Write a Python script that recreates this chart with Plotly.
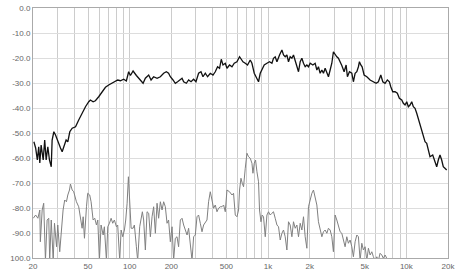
import plotly.graph_objects as go
import math

# Frequency response (black)
resp_freq = [20.3, 20.9, 21.5, 22.0, 22.4, 22.9, 23.7, 24.3, 24.9, 25.6, 26.3, 27.1, 27.5, 28.3, 29.1,
             30.2, 31.6, 32.5, 33.4, 34.7, 35.7, 36.9, 38.4, 40.6, 42.8, 45.3, 47.9, 50.6, 52.0, 54.4,
             56.5, 59.7, 63.2, 66.8, 70.5, 74.6, 78.8, 81.9, 85.7, 90.5, 94.6, 98.3, 101.2, 105.8, 111.8,
             119.5, 125, 129.8, 137.2, 142.7, 149, 157.7, 166.6, 176, 184, 191, 196.7, 205.7, 213.7,
             222, 232.3, 239, 245.5, 256.7, 266.7, 277.5, 289.8, 301.5, 314.8, 327.6, 338.7, 352, 365.7,
             382.5, 400, 415.6, 431.8, 446.4, 459.2, 472.4, 490.8, 505, 527, 548.7, 570, 596, 622.6,
             659, 684.6, 711, 743.7, 765, 795, 831.7, 853.8, 878.4, 912.5, 938.7, 982, 1025, 1067,
             1095, 1127, 1160, 1211, 1260, 1294, 1331, 1369, 1406, 1446, 1488, 1528, 1572, 1617, 1661,
             1708, 1757, 1805, 1856, 1909, 1961, 2017, 2109, 2191, 2254, 2315, 2381, 2450, 2516, 2588,
             2662, 2734, 2812, 2892, 2970, 3056, 3143, 3227, 3320, 3415, 3549, 3669, 3750, 3877, 4034,
             4142, 4261, 4384, 4502, 4578, 4686, 4789, 4950, 5178, 5470, 5720, 6043, 6278, 6534, 6755,
             7017, 7290, 7537, 7715, 7975, 8286, 8608, 8900, 9262, 9512, 9784, 10064, 10335, 10630,
             10935, 11230, 11555, 11885, 12410, 12915, 13265, 13645, 14035, 14415, 14825, 15505, 16110,
             16570, 17020, 17505, 18005, 18490, 19010, 19570]
resp_db = [-53.5, -56, -60.8, -55.5, -62, -54.8, -60.8, -52.8, -60.8, -55.5, -60.8, -63.5, -52.8, -49.5, -50.8,
           -53.5, -56, -57.5, -55.5, -52.8, -53.5, -49.5, -48.1, -47.5, -44.8, -42.1, -39.5, -37.5, -36.8, -37.5,
           -37.1, -35.5, -33.5, -31.7, -30.8, -30.1, -29.5, -28.8, -29.1, -28.5, -29.2, -25.5, -27, -25.2, -27,
           -28.8, -30.1, -28.1, -26.8, -28.8, -27.5, -28.1, -27.5, -26.1, -25.5, -26.1, -27.5, -28.8, -30.1,
           -29.5, -28.8, -28.1, -29.5, -30.1, -28.8, -29.5, -28.5, -29.5, -26.1, -25.5, -27.5, -26.1, -27.5,
           -26.1, -26.8, -25.5, -23.5, -24.1, -20.5, -22.8, -22.1, -24.1, -22.8, -23.5, -22.1, -21.5, -19.5,
           -21.5, -22.1, -22.8, -20.8, -22.1, -26.1, -28.1, -29.5, -26.1, -24.1, -22.8, -22.1, -21.5, -22.1,
           -20.1, -19.5, -21.5, -18.8, -16.8, -18.8, -19.5, -18.8, -21.5, -19.5, -20.1, -18.8, -20.8, -23.5, -25.5,
           -21.5, -20.1, -22.1, -23.5, -22.8, -23.5, -22.1, -22.8, -22.1, -24.8, -23.5, -26.1, -24.8, -26.1, -24.1,
           -25.5, -27.5, -24.8, -22.1, -17.5, -18.8, -19.5, -20.1, -21.5, -23, -25.5, -22.8, -27.5, -25.5, -26.1,
           -29.5, -26.1, -25.5, -23.5, -21.5, -22.8, -23.5, -26.8, -27.5, -28.8, -29.5, -30.1, -29.5, -26.8, -29.5,
           -30.1, -28.8, -29.5, -31.5, -33.5, -33.5, -34.1, -36.1, -36.8, -38.1, -38.8, -37.5, -39.5, -38.8,
           -37.5, -39.5, -40.1, -42.1, -45.5, -48.8, -51.5, -53.5, -54.1, -57.5, -59.5, -58.8, -62.1,
           -63.5, -60.8, -58.8, -60.8, -63.5, -64.1, -64.8]

# Distortion (gray)
dist_freq = [20.1, 20.9, 21.7, 22.4, 22.6, 23.3, 23.9, 24.6, 25.3, 26.0, 26.4, 27.1, 28.0, 28.6, 29.6,
             30.2, 31.2, 32.0, 33.0, 33.9, 34.9, 35.7, 36.7, 37.3, 38.4, 39.4, 41.2, 42.8, 44.1, 45.3,
             46.1, 47.1, 48.7, 49.7, 51.4, 52.6, 54.4, 55.9, 57.5, 58.8, 60.4, 62.1, 64.3, 65.6, 67.9,
             69.4, 71.4, 73.4, 75.4, 77.5, 80.2, 81.9, 84.7, 86.7, 89.1, 91.6, 93.6, 95.8, 97.9, 100,
             102.4, 105.8, 108.1, 111.8, 114.2, 118.1, 120.9, 123.5, 126.2, 129.8, 133.5, 137.2, 141.1,
             145.1, 149, 153.3, 157.7, 161.9, 166.6, 171.4, 176, 181, 186.2, 191, 196.7, 202.4, 207.8,
             213.7, 219.8, 225.7, 232.3, 239, 245.5, 252.5, 259.8, 266.7, 274.4, 282.3, 289.8, 298.1,
             306.6, 314.8, 323.9, 333.2, 342.2, 352, 362, 371.8, 382.5, 393.4, 404, 415.6, 427.6, 439,
             452, 464.6, 477.2, 490.8, 505, 527, 548.7, 563.5, 579.7, 596.4, 612.4, 622.6, 637.3, 651.3,
             665.5, 684.6, 704.3, 723.2, 743.9, 765.3, 778, 795, 812.5, 831.7, 853.8, 868, 889, 908, 928,
             955, 982, 1008, 1037, 1067, 1095, 1127, 1160, 1191, 1225, 1260, 1294, 1331, 1369, 1406,
             1446, 1488, 1528, 1572, 1617, 1661, 1708, 1757, 1805, 1856, 1909, 1961, 2017, 2075, 2131,
             2191, 2254, 2315, 2381, 2450, 2516, 2588, 2662, 2734, 2812, 2892, 2970, 3056, 3143, 3227,
             3320, 3415, 3507, 3607, 3710, 3811, 3920, 4034, 4142, 4261, 4384, 4502, 4631, 4764, 4892,
             5033, 5178, 5317, 5470, 5627, 5778, 5944, 6114, 6278, 6456, 6641, 6819, 7017, 7218, 7412]
dist_db = [-84.1, -82.8, -84.1, -80.8, -93.5, -80.8, -78.1, -101, -84.8, -84.1, -101, -84.8, -101, -86.1, -95.5,
           -86.8, -97.5, -88.8, -80.8, -76.8, -77.5, -74.8, -72.8, -70.4, -72.8, -73.5, -77.5, -79.5, -84.1, -88.1,
           -83.5, -92.1, -79.5, -74.1, -74.8, -77.5, -84.8, -84.1, -86.8, -84.8, -101, -86.8, -90.8, -87.5, -101,
           -87.5, -86.1, -84.1, -86.1, -84.8, -87.5, -86.8, -101, -88.8, -91.5, -88.8, -84.8, -78.1, -67.5, -79.5,
           -88.1, -88.1, -86.8, -95.5, -101, -87.5, -83.5, -81.5, -84.8, -96.8, -81.5, -82.1, -91.5,
           -83.5, -79.5, -90.1, -78.1, -84.1, -77.5, -80.8, -77.5, -79.5, -86.1, -84.8, -93.5, -87.5, -101,
           -92.1, -91.5, -95.5, -84.8, -84.1, -86.8, -88.8, -90.8, -88.1, -95.5, -101, -91.5, -90.8,
           -83.5, -82.8, -86.1, -89.5, -86.8, -85.5, -84.8, -77.5, -73.5, -76.8, -80.1, -78.8, -81.5, -80.1,
           -79.5, -79.5, -78.8, -81.5, -72.8, -73.5, -74.8, -74.1, -82.8, -83.5, -80.8, -72.8, -68.1, -70.1,
           -71.5, -64.1, -58.1, -59.5, -60.1, -62.1, -66.1, -62.1, -60.8, -65.5, -69.5, -80.8, -85.5, -82.8, -83.5,
           -91.5, -82.8, -81.5, -82.8, -82.1, -81.5, -84.1, -86.8, -87.5, -92.8, -90.1, -88.8, -91.5, -96.8, -85.5,
           -86.8, -91.5, -85.5, -88.1, -86.8, -91.5, -86.1, -88.8, -83.5, -91.5, -96.1, -79.5, -76.1, -74.1, -72.8,
           -76.1, -78.8, -85.5, -88.8, -91.5, -89.5, -88.8, -90.1, -88.1, -88.8, -91.5, -97.5, -82.8, -84.8, -87.5,
           -89.5, -90.1, -92.8, -95.5, -91.5, -94.1, -92.8, -95.5, -99.5, -93.5, -90.8, -91.5, -101, -94.1, -96.8,
           -95.5, -101, -96.1, -98.8, -97.5, -99.5, -101, -99.5, -101, -98.1, -98.8, -100.1, -98.8, -100.1, -101]

x_tick_labels = ["20", "50", "100", "200", "500", "1k", "2k", "5k", "10k", "20k"]
x_tick_label_vals = [20, 50, 100, 200, 500, 1000, 2000, 5000, 10000, 20000]
y_tick_vals = [0, -10, -20, -30, -40, -50, -60, -70, -80, -90, -100]
y_tick_labels = ["0.0", "-10.0", "-20.0", "-30.0", "-40.0", "-50.0", "-60.0", "-70.0", "-80.0", "-90.0", "100.0"]

# grid positions on the log axis (1-2-...-9 per decade)
grid_vals = []
for dec in [10, 100, 1000, 10000]:
    for m in range(1, 10):
        v = dec * m
        if 20 <= v <= 20000:
            grid_vals.append(v)
grid_text = [x_tick_labels[x_tick_label_vals.index(v)] if v in x_tick_label_vals else "" for v in grid_vals]

fig = go.Figure()
fig.add_trace(go.Scatter(x=dist_freq, y=dist_db, mode="lines",
                         line=dict(color="#808080", width=1), hoverinfo="skip"))
fig.add_trace(go.Scatter(x=resp_freq, y=resp_db, mode="lines",
                         line=dict(color="#111111", width=1.3), hoverinfo="skip"))

fig.update_layout(
    width=458, height=273,
    margin=dict(l=33, r=10, t=8, b=15, autoexpand=False),
    paper_bgcolor="white", plot_bgcolor="white",
    showlegend=False,
    font=dict(family="Liberation Sans, Arial, sans-serif", size=8, color="#666666"),
)
fig.update_xaxes(type="log", range=[math.log10(20), math.log10(20000)],
                 tickvals=grid_vals, ticktext=grid_text, ticks="", ticklen=0,
                 showgrid=True, gridcolor="#cccccc", gridwidth=1, automargin=False,
                 showline=True, linecolor="#aaaaaa", linewidth=1, mirror=True,
                 zeroline=False, tickfont=dict(size=8, color="#666666"))
fig.update_yaxes(range=[-100, 0], tickvals=y_tick_vals, ticktext=y_tick_labels, ticks="",
                 showgrid=True, gridcolor="#dddddd", gridwidth=1, automargin=False,
                 showline=True, linecolor="#aaaaaa", linewidth=1, mirror=True,
                 zeroline=False, tickfont=dict(size=8, color="#666666"))

fig.write_html("out.html", config={"displayModeBar": False, "staticPlot": True},
               post_script="document.body.style.margin='0px';document.body.style.overflow='hidden';")
